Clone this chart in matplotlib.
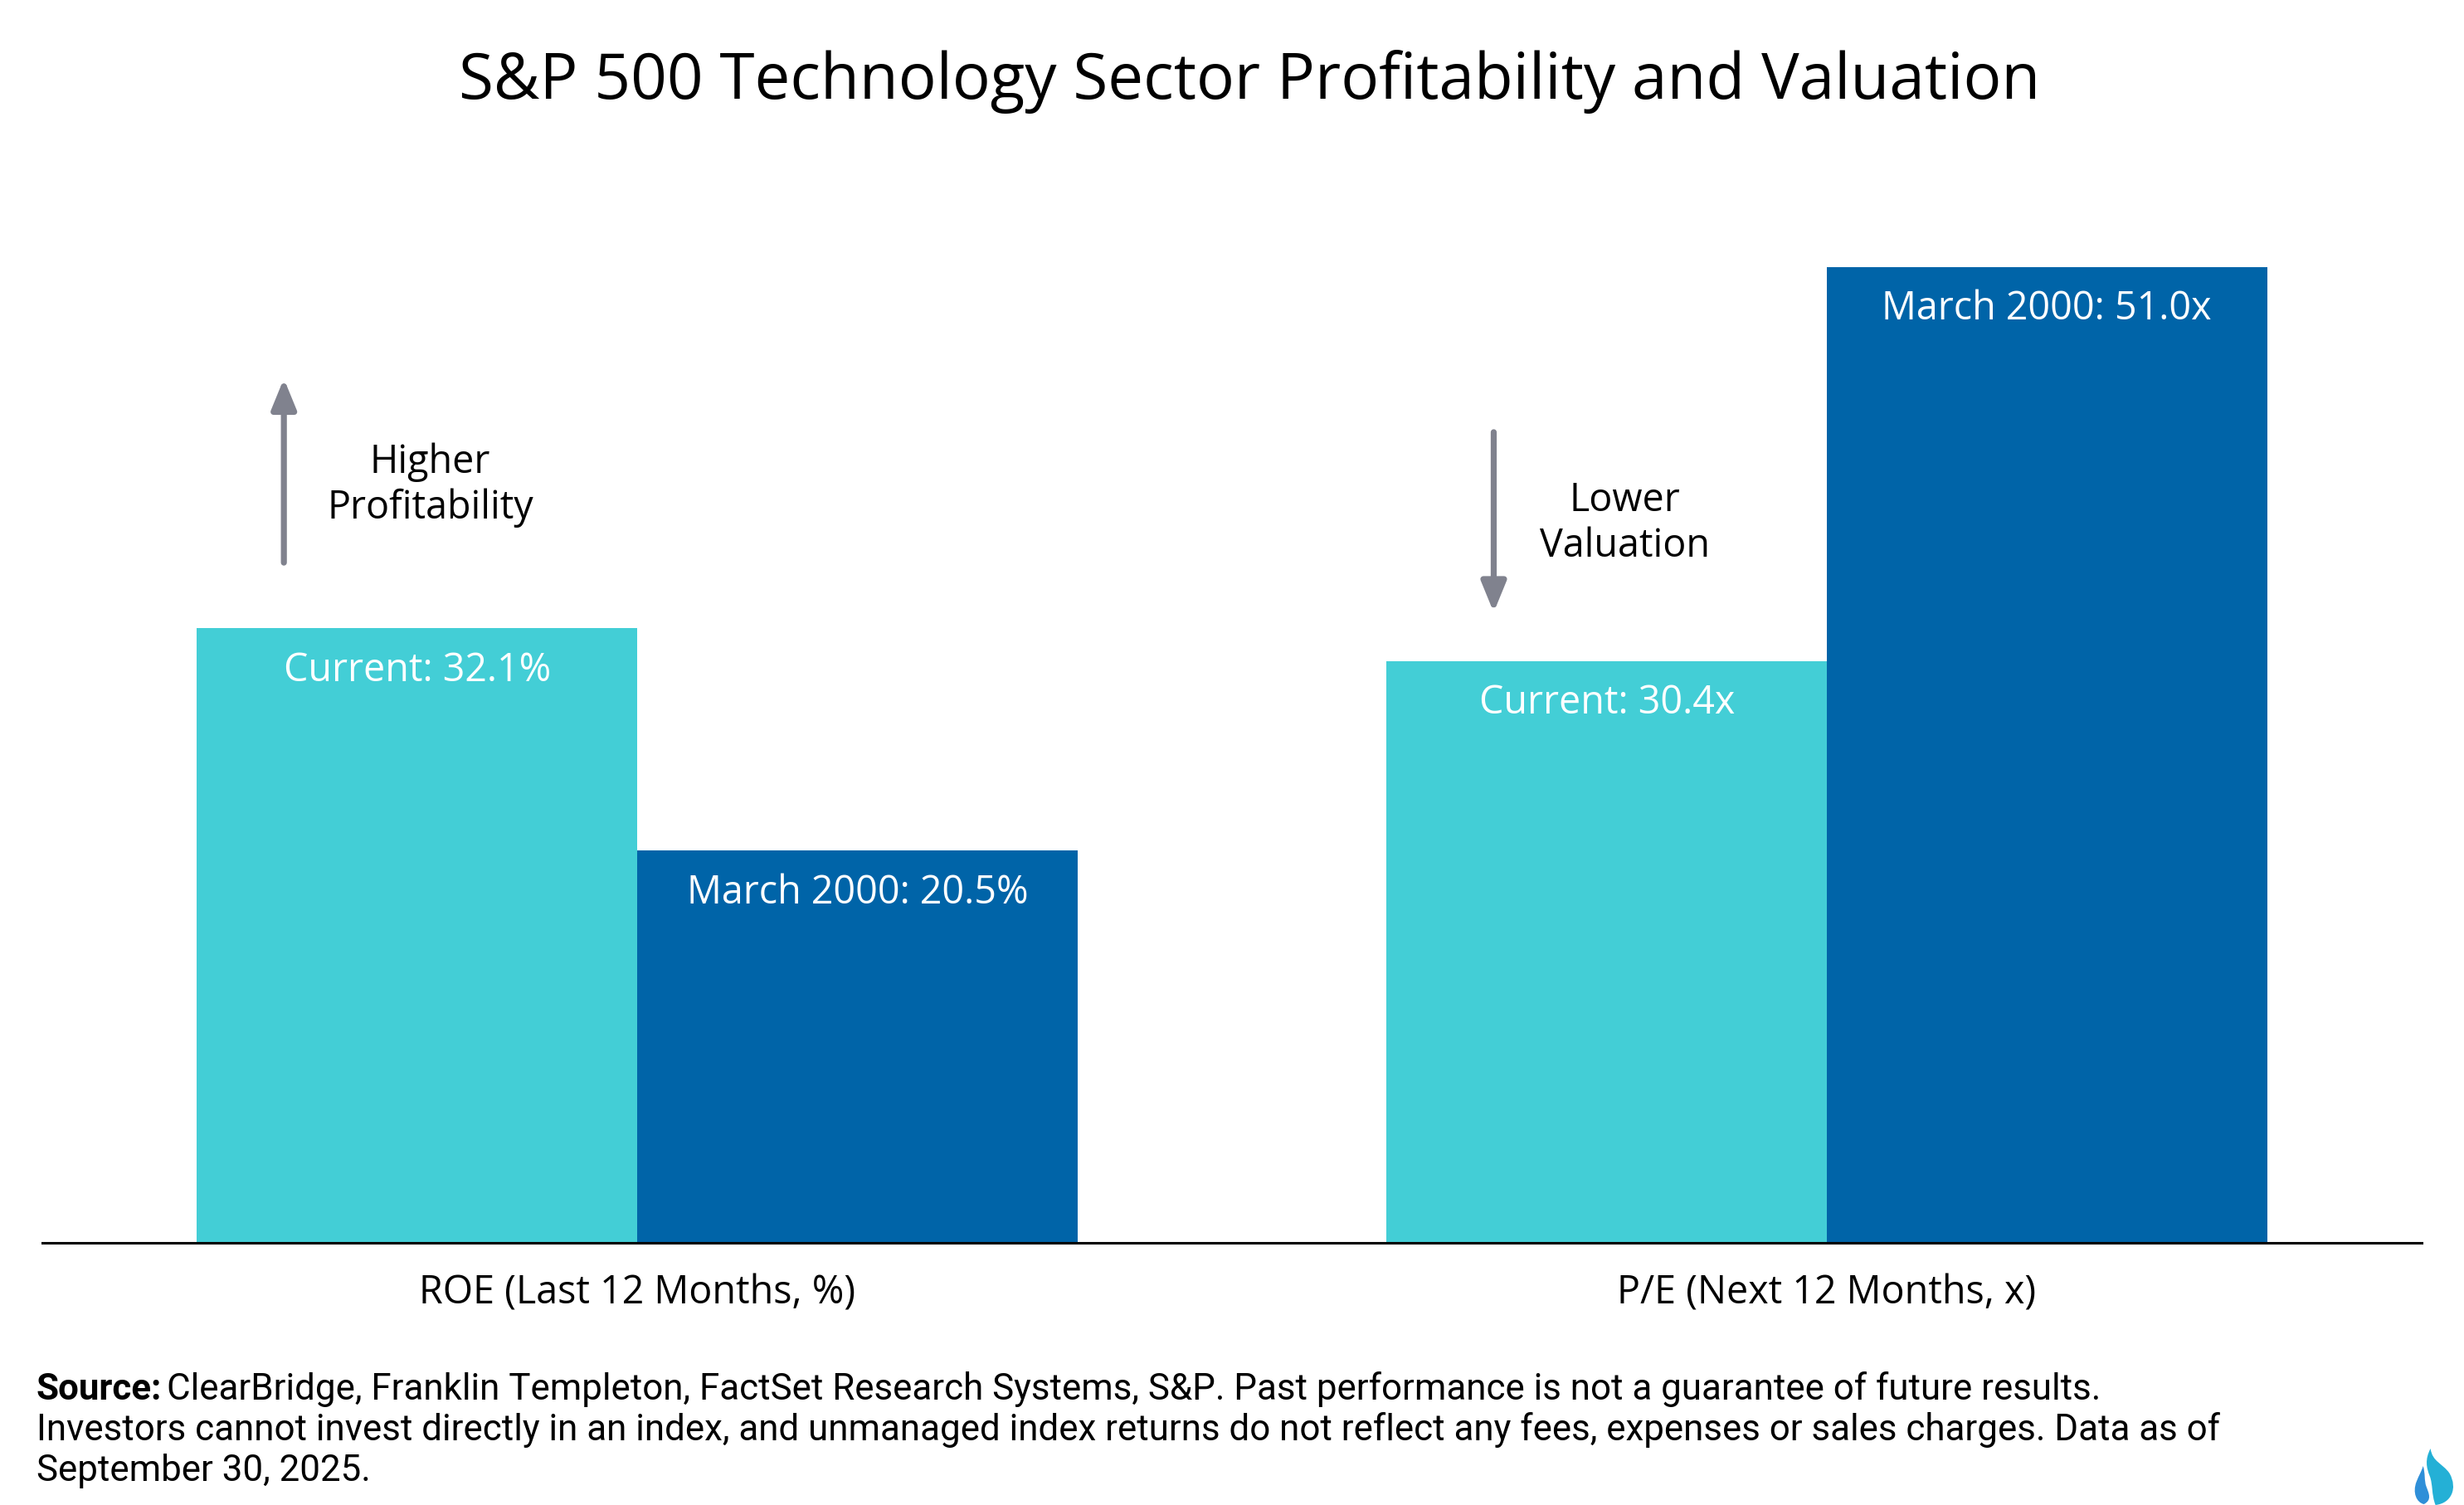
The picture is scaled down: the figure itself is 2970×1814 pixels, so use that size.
import numpy as np
import matplotlib.pyplot as plt
from matplotlib.path import Path
from matplotlib.patches import PathPatch

plt.rcParams['font.family'] = ['Open Sans', 'DejaVu Sans']

# Data
categories = ["ROE (Last 12 Months, %)", "P/E (Next 12 Months, x)"]
current = [32.1, 30.4]
march2000 = [20.5, 51.0]
current_labels = ["Current: 32.1%", "Current: 30.4x"]
march_labels = ["March 2000: 20.5%", "March 2000: 51.0x"]

c_light = "#43CED6"
c_dark = "#0064A8"
c_arrow = "#80828E"
fs_body = 16.8

fig = plt.figure(figsize=(14.85, 9.075), dpi=200)
ax = fig.add_axes([0.0172, 0.1743, 0.9656, 0.70])

x = np.arange(len(categories))
w = 0.37
b1 = ax.bar(x - w / 2, current, width=w, color=c_light)
b2 = ax.bar(x + w / 2, march2000, width=w, color=c_dark)

for bars, labels in ((b1, current_labels), (b2, march_labels)):
    for rect, lab in zip(bars, labels):
        ax.annotate(lab, (rect.get_x() + rect.get_width() / 2, rect.get_height()),
                    xytext=(0, -18), textcoords="offset points",
                    ha="center", va="center", color="white", fontsize=fs_body)

ax.set_xlim(-0.5, 1.5)
ax.set_ylim(0, 55.1)
ax.set_xticks(x)
ax.set_xticklabels(categories, fontsize=fs_body)
ax.tick_params(axis="x", length=0, pad=13)
ax.set_yticks([])
for s in ("top", "right", "left"):
    ax.spines[s].set_visible(False)
ax.spines["bottom"].set_linewidth(1.1)

# Arrows and notes
head = "-|>,head_length=1.1,head_width=0.45"
ax.annotate("", xy=(-0.297, 45.4), xytext=(-0.297, 35.3),
            arrowprops=dict(arrowstyle=head, color=c_arrow, lw=2.6))
ax.text(-0.174, 39.65, "Higher\nProfitability", ha="center", va="center",
        fontsize=fs_body, linespacing=1.2)
ax.annotate("", xy=(0.720, 32.7), xytext=(0.720, 42.6),
            arrowprops=dict(arrowstyle=head, color=c_arrow, lw=2.6))
ax.text(0.830, 37.65, "Lower\nValuation", ha="center", va="center",
        fontsize=fs_body, linespacing=1.2)

fig.text(0.507, 0.946, "S&P 500 Technology Sector Profitability and Valuation",
         ha="center", va="center", fontsize=27.5)

# Source note
fam = ['Roboto', 'DejaVu Sans']
fs = 15.8
src = fig.text(0.0147, 0.0773, "Source:", fontweight="bold", fontsize=fs,
               family=fam, va="center")
fig.canvas.draw()
bb = src.get_window_extent().transformed(fig.transFigure.inverted())
fig.text(bb.x1 + 0.002, 0.0773,
         "ClearBridge, Franklin Templeton, FactSet Research Systems, S&P. "
         "Past performance is not a guarantee of future results.",
         fontsize=fs, family=fam, va="center")
fig.text(0.0147, 0.0502,
         "Investors cannot invest directly in an index, and unmanaged index returns "
         "do not reflect any fees, expenses or sales charges. Data as of",
         fontsize=fs, family=fam, va="center")
fig.text(0.0147, 0.0231, "September 30, 2025.", fontsize=fs, family=fam,
         va="center")

# small flame logo (pixel units)
lax = fig.add_axes([0.978, 0.0, 0.02, 0.04])
lax.set_xlim(0, 59.4)
lax.set_ylim(0, 72.6)
lax.axis("off")
C4 = Path.CURVE4
big = Path([(31, 0), (50, 2), (58, 20), (48, 38), (40, 50), (27, 52), (25, 68),
            (18, 55), (20, 45), (24, 35), (28, 25), (26, 12), (31, 0)],
           [Path.MOVETO] + [C4] * 12)
small = Path([(17, 1), (8, 3), (3, 15), (8, 28), (11, 36), (14, 40), (16, 47),
              (19, 38), (17, 30), (20, 22), (23, 14), (27, 6), (17, 1)],
             [Path.MOVETO] + [C4] * 12)
lax.add_patch(PathPatch(big, facecolor="#24B0D6", edgecolor="none"))
lax.add_patch(PathPatch(small, facecolor="#2F8FD8", edgecolor="none"))

fig.savefig("out.png", dpi=200)
